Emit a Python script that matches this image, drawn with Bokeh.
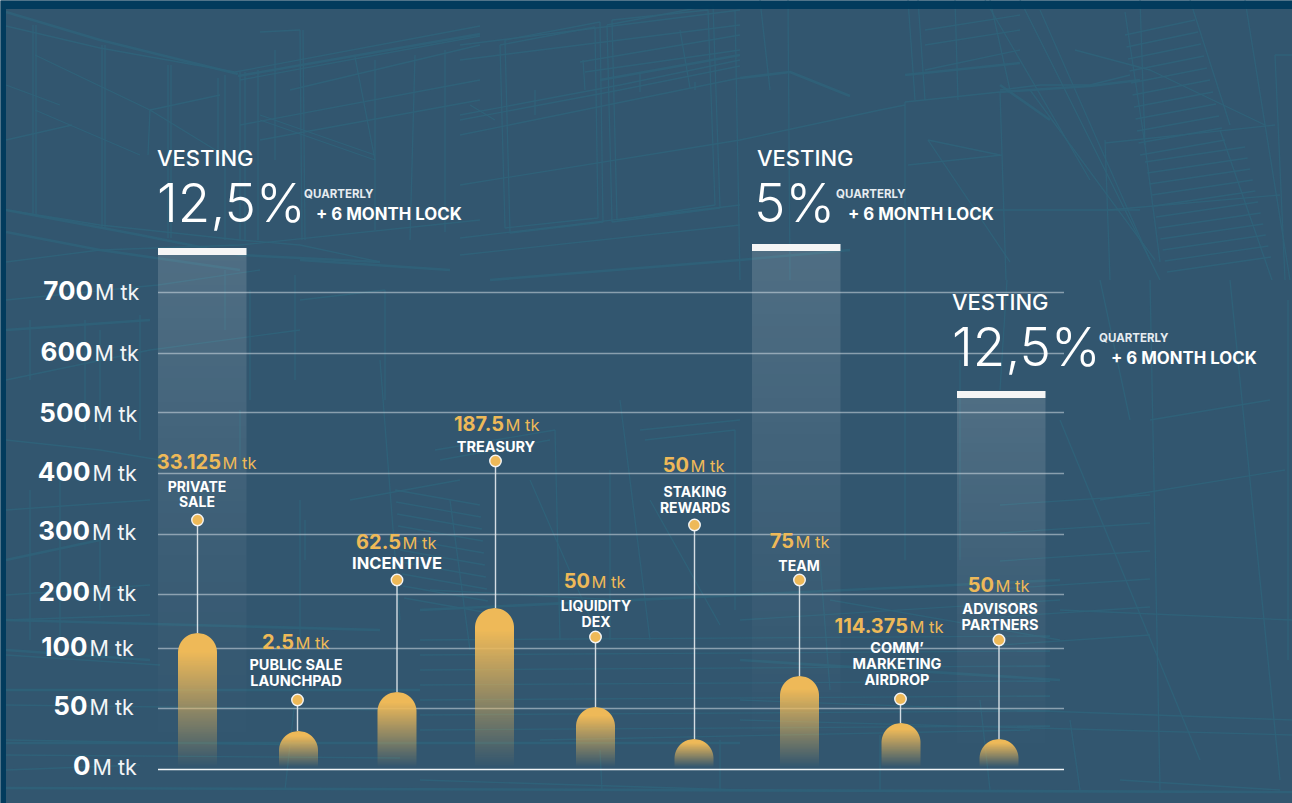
import math
from bokeh.plotting import figure
from bokeh.models import ColumnDataSource
from bokeh.core.properties import value
from bokeh.embed import file_html
from bokeh.resources import INLINE

# ---- data ----
tick_labels = ["0", "50", "100", "200", "300", "400", "500", "600", "700"]
# the axis is not proportional: positions of the ticks in axis units above the baseline
tick_positions = [0, 60.5, 120.5, 174.5, 234.5, 295.5, 356.5, 415.5, 476.5]
categories = [["PRIVATE", "SALE"], ["PUBLIC SALE", "LAUNCHPAD"], ["INCENTIVE"], ["TREASURY"],
              ["LIQUIDITY", "DEX"], ["STAKING", "REWARDS"], ["TEAM"],
              ["COMM’", "MARKETING", "AIRDROP"], ["ADVISORS", "PARTNERS"]]
amounts = ["33.125", "2.5", "62.5", "187.5", "50", "50", "75", "114.375", "50"]
bar_heights = [136, 38, 77, 161, 62, 30, 93, 46, 30]
marker_heights = [249, 69, 189, 308, 132, 244, 189, 70, 129]
vesting_percent = ["12,5%", "5%", "12,5%"]
vesting_heights = [514, 518, 371]

# ---- layout, in reference pixels ----
W, H = 1292, 803
BASE = 769
def v(y_px):
    return BASE - y_px

GOLD = "#eeb958"
BG = "#32566f"
WIRE = "#2f6279"
bar_x = [197.5, 298.5, 397, 494.5, 595.5, 694, 799.5, 901, 999]
stem_x = [197.5, 297.5, 397, 495.5, 595.5, 694.5, 799.5, 900.5, 999]
BAR_W = 39
axis_split = [90.5, 87.5, 87.5, 90, 90, 90.5, 91, 92.5, 93]
axis_base = [775, 715, 656, 601, 540, 481, 422, 361, 300]
amount_split = [221, 294, 401, 504, 590, 689, 794, 908, 994]
amount_base = [469, 649, 549, 431, 588, 472, 548, 633, 592]
name_x = [197, 296, 397, 496, 596, 695, 799, 897, 1000]
name_base = [[491.5, 506.5], [670.5, 686.5], [569.5], [452.5], [610.5, 626.5], [496.5, 512.5],
             [570.5], [653.5, 669.5, 685.5], [614.5, 630.5]]
name_size = [14, 14.5, 16.5, 14.5, 14, 14, 14, 14.5, 14.5]
vest_left = [158, 752, 957]
vest_text_x = [157, 757, 952]
pct_x = [157, 754, 952]
vest_base = [166, 166, 310]
pct_base = [223, 223, 367]
q_x = [304, 836, 1099]
q_base = [198, 198, 342]
lock_x = [316, 848, 1111]
lock_base = [220, 220, 364]
VEST_W = 88.5

p = figure(width=W, height=H, x_range=(0.5, W + 0.5), y_range=(v(H) - 0.5, v(0) - 0.5),
           output_backend="svg", toolbar_location=None, min_border=0,
           background_fill_color=BG, border_fill_color=BG, outline_line_color=None)
p.axis.visible = False
p.grid.visible = False

# ---- blueprint wireframe backdrop ----
thin = [
 # upper left: roof rails and window posts
 [(6,26),(100,48),(235,72)], [(35,55),(150,110),(240,165)], [(6,85),(60,105)], [(35,110),(140,155)],
 [(6,140),(72,125)], [(235,72),(480,26)], [(240,80),(480,36)], [(260,32),(300,30)],
 [(33,25),(33,215)], [(36,25),(36,215)], [(102,45),(102,228)], [(105,45),(105,228)],
 [(168,65),(168,238)], [(171,65),(171,238)], [(218,78),(218,160)],
 [(225,75),(225,240)], [(240,72),(240,240)], [(245,72),(245,240)], [(258,70),(258,240)], [(275,50),(275,160)],
 [(300,30),(302,240)], [(303,30),(305,240)], [(375,60),(375,230)], [(415,55),(410,240)], [(445,50),(445,232)],
 [(150,110),(220,95)], [(150,110),(148,155)], [(240,125),(480,80)], [(260,140),(480,100)], [(260,115),(375,155)],
 [(260,120),(375,160)], [(6,210),(100,225),(240,240),(300,245),(380,262)], [(6,262),(100,250),(240,245),(480,220)],
 [(355,57),(375,160)], [(290,90),(480,45)],
 # two large window frames
 [(500,45),(595,27),(598,218),(505,228),(500,45)], [(505,40),(600,22),(603,222),(510,233),(505,40)],
 [(612,20),(708,10),(715,205),(617,220),(612,20)], [(607,25),(713,5),(720,208),(612,222),(607,25)],
 [(735,10),(740,280)], [(788,0),(790,280)], [(760,0),(770,90)], [(680,30),(690,88)],
 [(460,45),(740,10)], [(460,60),(740,25)], [(460,115),(620,85),(740,60)], [(460,135),(740,78)],
 [(460,120),(620,90),(740,66)], [(580,62),(740,35)], [(585,72),(740,50)],
 [(460,185),(740,140),(880,110),(905,105)], [(460,255),(740,225)], [(460,238),(740,205)],
 [(470,105),(495,120)], [(583,60),(585,90)], [(640,72),(640,92)], [(695,82),(695,90)], [(535,90),(535,115)],
 # upper right: block and stair
 [(905,102),(1000,92)], [(905,102),(905,280)], [(1000,92),(1006,280)],
 [(1000,90),(1040,85),(1090,85),(1130,75)], [(1020,0),(1160,280)], [(1040,10),(1150,260)],
 [(1075,50),(1150,70),(1265,125)], [(1105,140),(1110,280)], [(1030,90),(1155,260)],
 [(985,0),(1090,180)], [(1275,55),(1292,55)], [(1275,55),(1285,280)], [(1245,0),(1290,280)],
 [(1105,143),(1275,125)], [(1125,12),(1145,145)], [(1190,0),(1230,125)], [(1140,0),(1145,145)],
 [(1145,145),(1160,262)], [(1220,130),(1272,280)], [(928,140),(1000,155)], [(928,140),(1010,262)],
 [(908,165),(1002,155)], [(955,0),(958,100)], [(990,0),(1010,90)], [(908,0),(915,100)], [(918,0),(925,100)],
 [(925,30),(1020,15)], [(925,45),(1020,30)], [(925,70),(1020,50)],
 [(905,210),(1140,210)], [(1108,210),(1280,195)],
 # left of the chart
 [(6,300),(158,285),(260,270)], [(6,380),(150,350),(300,330)], [(30,320),(30,380)],
 [(85,320),(85,430)], [(100,330),(100,430)], [(140,315),(140,440)], [(250,290),(250,400)],
 [(6,440),(100,450),(160,460)], [(240,410),(240,470)], [(30,490),(30,640)], [(60,480),(60,640)],
 [(100,520),(100,610)], [(6,510),(150,500)], [(6,595),(150,585)], [(6,620),(150,615)],
 [(6,740),(300,745)], [(6,755),(400,758)], [(300,500),(300,650)], [(305,520),(305,560)],
 [(225,270),(225,330)], [(295,275),(295,380)], [(300,300),(385,290),(385,400)], [(6,690),(150,690)],
 # middle, behind the bars
 [(380,360),(400,620)], [(350,500),(460,480)], [(430,590),(620,600)], [(450,500),(470,650)],
 [(530,480),(600,640)], [(610,470),(610,640)], [(620,400),(650,640)], [(650,500),(720,625)],
 [(435,450),(555,430),(560,640)], [(440,460),(550,440)], [(640,430),(740,420)], [(645,440),(735,430),(735,610)],
 [(740,620),(1060,600)], [(820,560),(830,690)], [(830,600),(1060,640)], [(740,700),(1292,720)],
 [(740,720),(1292,735)], [(540,740),(1030,730)], [(6,770),(140,765)], [(1060,610),(1292,620)],
 # right
 [(1100,280),(1130,420)], [(905,280),(905,560)], [(960,360),(960,560)], [(1007,280),(1000,390)],
 [(1060,420),(1200,760)], [(1230,280),(1280,780)], [(1150,280),(1160,790)], [(1288,300),(1288,660)],
 [(1150,420),(1270,400)], [(1100,500),(1285,470)], [(1120,780),(1280,790)], [(1070,720),(1080,790)],
 [(980,700),(990,790)], [(880,735),(880,790)], [(720,740),(720,790)], [(600,750),(602,790)],
 [(285,790),(295,700)], [(420,780),(740,790)], [(6,705),(400,710)], [(6,655),(160,665)],
]
for k in range(11):
    y0 = 20 + k * 12
    thin.append([(1125 + k * 1.5, y0 + 15), (1195 + k * 3, y0)])
for k in range(11):
    y0 = 150 + k * 11
    thin.append([(1145 + k * 2.2, y0 + 12), (1245 + k * 2.6, y0 - 3)])
for k in range(6):
    y0 = 495 + k * 28
    thin.append([(1000, y0 + 10), (1150, y0)])
for k in range(10):
    thin.append([(395 + k, 490 + k * 12), (480 + k, 505 + k * 12)])
for k in range(7):
    y0 = 640 + k * 15
    thin.append([(420, y0), (1050, y0 - 4)])
thick = [
 [(6,12),(100,40),(238,74)], [(238,76),(480,34)], [(6,210),(140,235),(240,255),(380,262)],
 [(740,78),(790,72),(850,96)], [(6,232),(100,250),(240,270)], [(490,280),(740,260),(850,250)],
 [(1000,92),(1090,86),(1140,80)], [(905,75),(1020,63)], [(1000,85),(1050,120)],
 [(6,620),(380,630)], [(6,650),(150,660)], [(420,610),(1060,580)], [(740,660),(1060,680)],
 [(300,260),(450,270)], [(6,560),(100,540)], [(6,330),(150,320)], [(600,80),(740,55)],
 [(6,788),(1292,792)], [(6,743),(740,743)], [(6,690),(420,690)],
]
p.multi_line([[a for a, _ in l] for l in thin], [[v(b) for _, b in l] for l in thin],
             line_color=WIRE, line_width=1.3, line_alpha=0.95)
p.multi_line([[a for a, _ in l] for l in thick], [[v(b) for _, b in l] for l in thick],
             line_color=WIRE, line_width=2.6, line_alpha=0.9)

# dark frame along the top and left edges
p.quad(left=[0, 0], right=[W, 6], top=[v(0), v(9)], bottom=[v(9), v(H)],
       fill_color="#003a5c", fill_alpha=0.95, line_color=None)

# ---- vesting columns: white, fading towards the baseline ----
STEP = 3
cl, cr, cb, ct, ca = [], [], [], [], []
for left, h in zip(vest_left, vesting_heights):
    y = h
    while y > 0:
        cl.append(left); cr.append(left + VEST_W)
        ct.append(y); cb.append(max(y - STEP, 0))
        ca.append(0.145 * (y / h) ** 1.25)
        y -= STEP
p.quad(left=cl, right=cr, bottom=cb, top=ct, fill_color="#ffffff", fill_alpha=ca, line_color=None)
p.quad(left=vest_left, right=[x + VEST_W for x in vest_left],
       bottom=vesting_heights, top=[h + 7 for h in vesting_heights],
       fill_color="#f5f5f5", line_color=None)

# ---- grid and baseline ----
GX0, GX1 = 158, 1064
p.segment(x0=[GX0] * 8, x1=[GX1] * 8, y0=tick_positions[1:], y1=tick_positions[1:],
          line_color="#dfe8ee", line_alpha=0.5, line_width=1.3)
p.segment(x0=[GX0], x1=[GX1], y0=[-0.5], y1=[-0.5], line_color="#f2f5f7", line_width=1.6)

# ---- stems ----
p.segment(x0=stem_x, x1=stem_x, y0=bar_heights, y1=marker_heights,
          line_color="#e6ebef", line_width=1.4, line_alpha=0.9)

# ---- gold bars: one slice per pixel, rounded top, fading towards the baseline ----
R = BAR_W / 2
FOOT = 2
xs, ys, al = [], [], []
for cx, h in zip(bar_x, bar_heights):
    span = h - FOOT
    for i in range(span):
        d0, d1 = float(i), float(i + 1)
        hw0 = math.sqrt(max(R * R - (R - d0) ** 2, 0)) if d0 < R else R
        hw1 = math.sqrt(max(R * R - (R - d1) ** 2, 0)) if d1 < R else R
        xs.append([cx - hw0, cx + hw0, cx + hw1, cx - hw1])
        ys.append([h - d0, h - d0, h - d1, h - d1])
        t = (i + 0.5) / span
        al.append(min(1.0, (1 - t) / 0.86))
p.patches(xs, ys, fill_color=GOLD, fill_alpha=al, line_color=None)

# ---- markers ----
p.scatter(stem_x, marker_heights, size=11.5, fill_color=GOLD, line_color="#f4f4f4", line_width=1.4)

# ---- texts ----
BOLD = value("Inter")
K = 0.38  # the svg text sits this fraction of its size below the requested baseline
def put(xs_, ys_, texts, size, color="#ffffff", style="bold", align="left", font=BOLD):
    src = ColumnDataSource(dict(x=xs_, y=[v(b) + K * size for b in ys_], t=texts))
    p.text("x", "y", text="t", source=src, text_font=font, text_font_size=f"{size}px", text_color=color,
           text_font_style=style, text_align=align, text_baseline="alphabetic")

put(axis_split, axis_base, tick_labels, 26, align="right")
put([x + 2 for x in axis_split], axis_base, ["M tk"] * 9, 21.5, color="#f2f5f7", style="normal")

put(amount_split, amount_base, amounts, 20, color=GOLD, align="right")
put([x + 1.5 for x in amount_split], amount_base, ["M tk"] * 9, 16.5, color=GOLD, style="normal")

for cx, bases, lines, sz in zip(name_x, name_base, categories, name_size):
    put([cx] * len(lines), bases, lines, sz, align="center")

put(vest_text_x, vest_base, ["VESTING"] * 3, 22, style="normal", font=value("Inter Medium"))
put(pct_x, pct_base, vesting_percent, 53, style="normal", font=value("Inter Light"))
put(q_x, q_base, ["QUARTERLY"] * 3, 11.5, color="#e6ecf0")
put(lock_x, lock_base, ["+ 6 MONTH LOCK"] * 3, 16.8)

open("out.html", "w").write(file_html(p, INLINE))
